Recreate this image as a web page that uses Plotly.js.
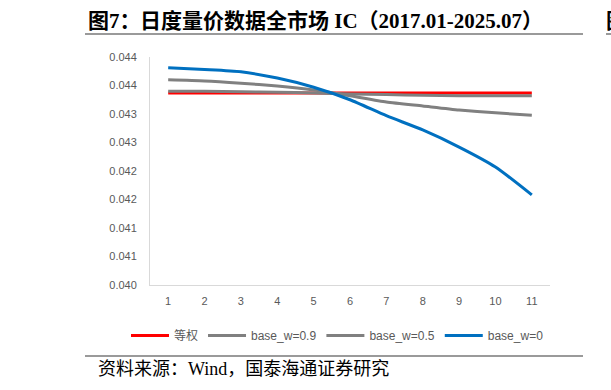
<!DOCTYPE html>
<html>
<head>
<meta charset="utf-8">
<script src="https://cdn.plot.ly/plotly-3.0.1.min.js"></script>
<style>html,body{margin:0;padding:0;background:#fff;}#chart{width:611px;height:390px;}</style>
</head>
<body>
<div id="chart"></div>
<script>
const categories = ["1","2","3","4","5","6","7","8","9","10","11"];
const seriesNames = ["等权", "base_w=0.9", "base_w=0.5", "base_w=0"];
const equalW = [0.04337,0.04337,0.04337,0.04337,0.04337,0.04337,0.04337,0.04337,0.04337,0.04337,0.04337];
const base09 = [0.04340,0.04340,0.04339,0.04338,0.04337,0.04335,0.04334,0.04333,0.04332,0.04332,0.04332];
const base05 = [0.04360,0.04358,0.04354,0.04349,0.04342,0.04332,0.04321,0.04314,0.04307,0.04302,0.04298];
const base00 = [0.04381,0.04378,0.04374,0.04363,0.04347,0.04325,0.04297,0.04272,0.04242,0.04207,0.04158];
const yTickVals = [0.0400,0.0405,0.0410,0.0415,0.0420,0.0425,0.0430,0.0435,0.0440];
const yTickText = ["0.040","0.041","0.041","0.042","0.042","0.043","0.043","0.044","0.044"];
const colors = ["#FF0000","#808080","#808080","#0070C0"];
const allSeries = [equalW, base09, base05, base00];

const traces = allSeries.map((s,i)=>({
  x: categories, y: s, name: seriesNames[i], type:'scatter', mode:'lines',
  line:{color:colors[i], width:3, shape:'spline', smoothing:0.6}
}));

const serif = "'Liberation Serif', 'Noto Sans CJK SC', serif";
const W = 611, H = 390, L = 150, R = 61, T = 57, B = 105;
const pw = W - L - R, ph = H - T - B;
const px = x => (x - L) / pw;
const py = y => (H - B - y) / ph;

const layout = {
  width:W, height:H,
  margin:{l:L, r:R, t:T, b:B},
  paper_bgcolor:'#fff', plot_bgcolor:'#fff',
  showlegend:true,
  legend:{orientation:'h', x:px(126), xanchor:'left', y:py(321), yanchor:'top',
    itemwidth:38,
    font:{family:"Arial, 'Liberation Sans', 'Noto Sans CJK SC'", size:12, color:'#595959'},
    tracegroupgap:0, bgcolor:'rgba(0,0,0,0)'},
  xaxis:{type:'category', range:[-0.5,10.5], showline:true, linecolor:'#D9D9D9', linewidth:1,
    showgrid:false, zeroline:false, ticks:'', ticklabelstandoff:6,
    tickfont:{family:"Arial, 'Liberation Sans'", size:11, color:'#595959'}},
  yaxis:{range:[0.0400,0.0440], tickvals:yTickVals, ticktext:yTickText, showline:true,
    linecolor:'#D9D9D9', linewidth:1, showgrid:false, zeroline:false, ticks:'', ticklabelstandoff:10,
    tickfont:{family:"Arial, 'Liberation Sans'", size:11, color:'#595959'}},
  shapes:[
    {type:'line', xref:'paper', yref:'paper', x0:px(85), x1:px(583), y0:py(34), y1:py(34),
     line:{color:'#9a9a9a', width:2}},
    {type:'line', xref:'paper', yref:'paper', x0:px(606), x1:px(612), y0:py(34), y1:py(34),
     line:{color:'#9a9a9a', width:2}},
    {type:'line', xref:'paper', yref:'paper', x0:px(85), x1:px(583), y0:py(356), y1:py(356),
     line:{color:'#9a9a9a', width:2}}
  ],
  annotations:[
    {xref:'paper', yref:'paper', x:px(86), y:py(35), xanchor:'left', yanchor:'bottom', showarrow:false,
     text:'<b>图7：</b>',
     font:{family:serif, size:21, color:'#000'}},
    {xref:'paper', yref:'paper', x:px(138), y:py(35), xanchor:'left', yanchor:'bottom', showarrow:false,
     text:'<b>日度量价数据全市场 IC（2017.01-2025.07）</b>',
     font:{family:serif, size:21, color:'#000'}},
    {xref:'paper', yref:'paper', x:px(604), y:py(35), xanchor:'left', yanchor:'bottom', showarrow:false,
     text:'<b>图</b>', font:{family:serif, size:21, color:'#000'}},
    {xref:'paper', yref:'paper', x:px(96), y:py(357), xanchor:'left', yanchor:'top', showarrow:false,
     text:'资料来源：Wind，国泰海通证券研究',
     font:{family:serif, size:18, color:'#000'}}
  ]
};
Plotly.newPlot('chart', traces, layout, {displayModeBar:false, staticPlot:true});
</script>
</body>
</html>
